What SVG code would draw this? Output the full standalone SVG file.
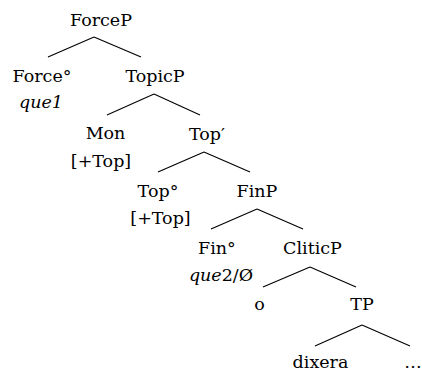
<svg xmlns="http://www.w3.org/2000/svg" width="422" height="373" viewBox="0 0 422 373">
<style>
text{font-family:"DejaVu Serif","Liberation Serif",serif;font-size:17.5px;fill:#000;text-anchor:middle}
.i{font-style:italic}
line{stroke:#000;stroke-width:1.1}
</style>
<rect width="422" height="373" fill="#fff"/>
<g id="connectors">
<line x1="94" y1="37" x2="48" y2="57"/><line x1="94" y1="37" x2="141" y2="57"/>
<line x1="154" y1="94" x2="107" y2="115"/><line x1="154" y1="94" x2="200" y2="115"/>
<line x1="204" y1="152" x2="158" y2="172"/><line x1="204" y1="152" x2="250" y2="172"/>
<line x1="257" y1="209" x2="211" y2="229"/><line x1="257" y1="209" x2="303" y2="229"/>
<line x1="310" y1="267" x2="263" y2="287"/><line x1="310" y1="267" x2="356" y2="287"/>
<line x1="362" y1="325" x2="315" y2="346"/><line x1="362" y1="325" x2="410" y2="346"/>
</g>
<g id="ForceP"><text x="101" y="26">ForceP</text></g>
<g id="Force"><text x="42" y="82">Force°</text><text class="i" x="41" y="108">que1</text></g>
<g id="TopicP"><text x="155" y="82">TopicP</text></g>
<g id="Mon"><text x="105.5" y="139">Mon</text><text x="101" y="167">[+Top]</text></g>
<g id="TopBar"><text x="207" y="140">Top′</text></g>
<g id="Top"><text x="158" y="197">Top°</text><text x="160.5" y="224">[+Top]</text></g>
<g id="FinP"><text x="257" y="197">FinP</text></g>
<g id="Fin"><text x="217" y="254">Fin°</text><text x="221" y="281"><tspan class="i">que</tspan>2/Ø</text></g>
<g id="CliticP"><text x="312.5" y="254">CliticP</text></g>
<g id="o"><text x="259.5" y="310">o</text></g>
<g id="TP"><text x="362" y="310">TP</text></g>
<g id="dixera"><text x="320.5" y="368">dixera</text></g>
<g id="ellipsis"><text x="413" y="368">…</text></g>
</svg>
